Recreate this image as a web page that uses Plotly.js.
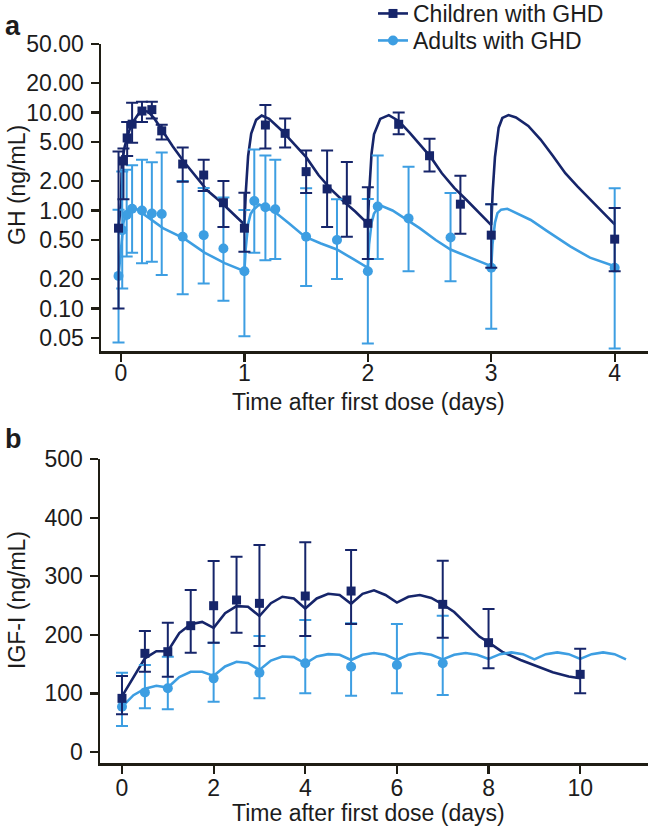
<!DOCTYPE html>
<html>
<head>
<meta charset="utf-8">
<script src="https://cdn.plot.ly/plotly-3.0.1.min.js"></script>
<style>
html,body{margin:0;padding:0;background:#fff;overflow:hidden;}
#chart{width:653px;height:840px;margin-top:-8px;}
</style>
</head>
<body>
<div id="chart"></div>
<script>
// ---------- Panel a: GH (ng/mL), log scale ----------
const childGH_t     = [-0.02, 0.02, 0.05, 0.09, 0.17, 0.25, 0.33, 0.5, 0.67, 0.83, 1.0, 1.17, 1.33, 1.5, 1.67, 1.83, 2.0, 2.25, 2.5, 2.75, 3.0, 4.0];
const childGH_mean  = [0.66, 3.2, 5.5, 7.6, 10.35, 10.7, 6.5, 2.98, 2.30, 1.20, 0.66, 7.45, 6.13, 2.49, 1.66, 1.28, 0.74, 7.58, 3.62, 1.16, 0.56, 0.51];
const childGH_upper = [4.0, 4.3, 8.0, 12.6, 12.9, 12.9, 7.5, 4.4, 3.3, 2.0, 1.52, 11.9, 8.7, 4.1, 4.1, 3.13, 1.73, 10.0, 5.4, 2.26, 1.16, 1.06];
const childGH_lower = [0.10, 1.3, 3.6, 4.9, 8.0, 8.7, 5.3, 1.96, 1.58, 0.68, 0.38, 4.3, 4.4, 1.51, 0.68, 0.54, 0.32, 6.0, 2.5, 0.58, 0.26, 0.24];

const adultGH_t     = [-0.02, 0.01, 0.046, 0.09, 0.17, 0.25, 0.33, 0.5, 0.67, 0.83, 1.0, 1.08, 1.17, 1.25, 1.5, 1.75, 2.0, 2.08, 2.33, 2.67, 3.0, 4.0];
const adultGH_mean  = [0.215, 0.63, 0.90, 1.04, 1.0, 0.93, 0.92, 0.54, 0.56, 0.41, 0.24, 1.25, 1.08, 1.03, 0.54, 0.50, 0.24, 1.10, 0.83, 0.53, 0.26, 0.26];
const adultGH_upper = [1.02, 2.5, 2.6, 2.9, 3.3, 3.1, 3.9, 2.0, 1.7, 1.36, 1.01, 4.2, 3.65, 3.3, 1.69, 1.30, 1.31, 3.65, 2.8, 1.51, 1.16, 1.69];
const adultGH_lower = [0.045, 0.16, 0.34, 0.37, 0.29, 0.30, 0.22, 0.14, 0.18, 0.12, 0.052, 0.37, 0.31, 0.32, 0.17, 0.20, 0.044, 0.32, 0.24, 0.19, 0.062, 0.039];

// model curves
const childGHcurve_t = [-0.02, 0.0, 0.006, 0.03, 0.05, 0.085, 0.14, 0.18, 0.22, 0.27, 0.34, 0.42, 0.51, 0.6, 0.7, 0.8, 0.9, 0.995,
                        1.0, 1.012, 1.03, 1.055, 1.095, 1.14, 1.2, 1.3, 1.4, 1.5, 1.6, 1.7, 1.8, 1.9, 1.995,
                        2.0, 2.012, 2.03, 2.05, 2.1, 2.17, 2.25, 2.34, 2.42, 2.51, 2.6, 2.7, 2.8, 2.9, 2.995,
                        3.0, 3.012, 3.03, 3.06, 3.09, 3.14, 3.2, 3.3, 3.4, 3.5, 3.6, 3.7, 3.8, 3.9, 4.0];
const childGHcurve_v = [0.66, 1.2, 3.0, 4.5, 5.6, 7.6, 9.6, 10.4, 10.2, 8.7, 6.4, 4.5, 3.14, 2.3, 1.6, 1.25, 0.95, 0.72,
                        0.72, 1.6, 3.6, 6.1, 8.4, 9.3, 8.6, 6.6, 4.8, 3.5, 2.3, 1.65, 1.25, 0.97, 0.74,
                        0.74, 1.6, 3.8, 6.0, 8.6, 9.4, 8.2, 6.2, 4.7, 3.5, 2.4, 1.7, 1.28, 0.95, 0.71,
                        0.71, 1.6, 3.5, 7.0, 8.8, 9.4, 8.9, 7.3, 5.3, 3.6, 2.4, 1.75, 1.3, 0.98, 0.72];

const adultGHcurve_t = [-0.02, 0.0, 0.02, 0.045, 0.07, 0.1, 0.2, 0.34, 0.51, 0.6, 0.68, 0.84, 1.0,
                        1.01, 1.03, 1.05, 1.07, 1.12, 1.24, 1.36, 1.49, 1.62, 1.75, 1.88, 2.0,
                        2.01, 2.03, 2.05, 2.1, 2.2, 2.34, 2.42, 2.55, 2.67, 2.83, 3.0,
                        3.01, 3.03, 3.05, 3.08, 3.13, 3.2, 3.32, 3.45, 3.64, 3.8, 4.0];
const adultGHcurve_v = [0.215, 0.4, 0.75, 0.95, 1.05, 1.09, 0.88, 0.66, 0.52, 0.43, 0.37, 0.29, 0.24,
                        0.4, 0.73, 0.92, 1.01, 1.15, 0.98, 0.74, 0.54, 0.46, 0.40, 0.32, 0.26,
                        0.45, 0.75, 0.93, 1.13, 1.0, 0.77, 0.66, 0.50, 0.40, 0.33, 0.27,
                        0.45, 0.75, 0.94, 1.02, 1.04, 0.95, 0.80, 0.62, 0.43, 0.33, 0.27];

const ghTickVals = [0.05, 0.1, 0.2, 0.5, 1, 2, 5, 10, 20, 50];
const ghTickText = ["0.05", "0.10", "0.20", "0.50", "1.00", "2.00", "5.00", "10.00", "20.00", "50.00"];
const dayTicksA = [0, 1, 2, 3, 4];

// ---------- Panel b: IGF-I (ng/mL) ----------
const childIGF_t     = [0, 0.5, 1, 1.5, 2, 2.5, 3, 4, 5, 7, 8, 10];
const childIGF_mean  = [91.6, 168.4, 171.2, 215.6, 249.7, 259.4, 253.7, 266.2, 274.7, 252, 186.6, 132.6];
const childIGF_upper = [129.7, 206.5, 220.7, 276.5, 326, 333.3, 353.2, 357.8, 344.7, 326.5, 244, 176.3];
const childIGF_lower = [64.3, 137, 128.5, 169.5, 186.6, 203.6, 180.9, 198, 218.4, 195, 142.8, 100.1];

const adultIGF_t     = [0, 0.5, 1, 2, 3, 4, 5, 6, 7];
const adultIGF_mean  = [77.3, 101.8, 108.7, 125.7, 135.3, 151.4, 145.6, 148.5, 151.4];
const adultIGF_upper = [135.3, 148.5, 162.7, 186.6, 198, 225.3, 219.6, 218.4, 232.6];
const adultIGF_lower = [44.4, 74.6, 72.9, 85.8, 91.6, 100.1, 96.1, 100.1, 97.3];

const childIGFcurve_t = [0, 0.25, 0.5, 0.75, 1.0, 1.25, 1.5, 1.75, 2.0, 2.25, 2.5, 2.75, 3.0, 3.25, 3.5, 3.75, 4.0,
                         4.25, 4.5, 4.75, 5.0, 5.25, 5.5, 5.75, 6.0, 6.25, 6.5, 6.75, 7.0,
                         7.25, 7.5, 7.8, 8.0, 8.3, 8.7, 9.05, 9.4, 9.75, 10.0];
const childIGFcurve_v = [95, 128, 160, 172, 172, 203, 218, 222, 212, 237, 249, 248, 232, 254, 265, 262, 245,
                         262, 270, 268, 253, 270, 276, 268, 255, 265, 268, 263, 252,
                         239, 220, 197, 187, 171, 157, 146, 136, 129, 126];

const adultIGFcurve_t = [0, 0.25, 0.5, 0.75, 1.0, 1.25, 1.5, 1.75, 2.0, 2.25, 2.5, 2.75, 3.0, 3.25, 3.5, 3.75, 4.0,
                         4.25, 4.5, 4.75, 5.0, 5.25, 5.5, 5.75, 6.0, 6.25, 6.5, 6.75, 7.0, 7.25, 7.5, 7.75, 8.0,
                         8.25, 8.5, 8.75, 9.0, 9.25, 9.5, 9.75, 10.0, 10.25, 10.5, 10.75, 11.0];
const adultIGFcurve_v = [77, 97, 108, 113, 110, 128, 137, 137, 130, 146, 154, 152, 140, 156, 163, 162, 151,
                         163, 167, 166, 157, 166, 169, 166, 157, 166, 169, 166, 158, 166, 169, 166, 159,
                         167, 170, 167, 158, 167, 170, 167, 159, 167, 170, 167, 158];

const igfTickVals = [0, 100, 200, 300, 400, 500];
const dayTicksB = [0, 2, 4, 6, 8, 10];

const seriesNames = ["Children with GHD", "Adults with GHD"];

// ---------- styling ----------
const DARK = "#16256a";
const LIGHT = "#3d9ee2";
const AXIS = "#1f1d14";
const TXT = "#1c1c1c";
const FONT = "Liberation Sans, Arial, Helvetica, sans-serif";
const FS = 23;

function errY(mean, up, lo, color) {
  return {type: "data", symmetric: false,
          array: up.map((u, i) => u - mean[i]),
          arrayminus: lo.map((l, i) => mean[i] - l),
          color: color, thickness: 2, width: 6};
}

const traces = [
  {x: childGHcurve_t, y: childGHcurve_v, mode: "lines", line: {color: DARK, width: 2.6}, showlegend: false, hoverinfo: "skip", xaxis: "x", yaxis: "y"},
  {x: adultGHcurve_t, y: adultGHcurve_v, mode: "lines", line: {color: LIGHT, width: 2.6}, showlegend: false, hoverinfo: "skip", xaxis: "x", yaxis: "y"},
  {x: adultGH_t, y: adultGH_mean, mode: "markers", marker: {symbol: "circle", size: 10, color: LIGHT},
   error_y: errY(adultGH_mean, adultGH_upper, adultGH_lower, LIGHT), showlegend: false, xaxis: "x", yaxis: "y"},
  {x: childGH_t, y: childGH_mean, mode: "markers", marker: {symbol: "square", size: 9, color: DARK},
   error_y: errY(childGH_mean, childGH_upper, childGH_lower, DARK), showlegend: false, xaxis: "x", yaxis: "y"},
  {x: childIGFcurve_t, y: childIGFcurve_v, mode: "lines", line: {color: DARK, width: 2.6}, showlegend: false, hoverinfo: "skip", xaxis: "x2", yaxis: "y2"},
  {x: adultIGFcurve_t, y: adultIGFcurve_v, mode: "lines", line: {color: LIGHT, width: 2.6}, showlegend: false, hoverinfo: "skip", xaxis: "x2", yaxis: "y2"},
  {x: adultIGF_t, y: adultIGF_mean, mode: "markers", marker: {symbol: "circle", size: 10, color: LIGHT},
   error_y: errY(adultIGF_mean, adultIGF_upper, adultIGF_lower, LIGHT), showlegend: false, xaxis: "x2", yaxis: "y2"},
  {x: childIGF_t, y: childIGF_mean, mode: "markers", marker: {symbol: "square", size: 9, color: DARK},
   error_y: errY(childIGF_mean, childIGF_upper, childIGF_lower, DARK), showlegend: false, xaxis: "x2", yaxis: "y2"},
  // legend entries (each in its own legend box to control spacing)
  {x: [null], y: [null], name: seriesNames[0], mode: "lines+markers", line: {color: DARK, width: 2.6},
   marker: {symbol: "square", size: 9, color: DARK}, xaxis: "x", yaxis: "y", legend: "legend"},
  {x: [null], y: [null], name: seriesNames[1], mode: "lines+markers", line: {color: LIGHT, width: 2.6},
   marker: {symbol: "circle", size: 10, color: LIGHT}, xaxis: "x", yaxis: "y", legend: "legend2"}
];

// the figure is 8px taller than the window and shifted up by 8px (CSS) so the
// legend can sit as close to the top edge as in the reference
const OFF = 8;
const W = 653, H = 832 + OFF;
const px = v => v / W;
const py = v => 1 - (v + OFF) / H;   // v = pixel row in the visible window

const axisCommon = {
  showline: true, linecolor: AXIS, linewidth: 2.5, mirror: false,
  ticks: "outside", ticklen: 8, tickwidth: 2.2, tickcolor: AXIS,
  showgrid: false, zeroline: false,
  tickfont: {family: FONT, size: FS, color: TXT}
};

const legendCommon = {xanchor: "left", yanchor: "top", bgcolor: "rgba(0,0,0,0)",
                      font: {family: FONT, size: FS, color: TXT}, itemwidth: 30};

function ann(text, x, y, extra) {
  return Object.assign({text: text, x: px(x), y: py(y), xref: "paper", yref: "paper", showarrow: false,
                        xanchor: "center", yanchor: "middle", font: {family: FONT, size: FS, color: TXT}}, extra || {});
}

const layout = {
  width: W, height: H,
  margin: {l: 0, r: 0, t: 0, b: 0},
  paper_bgcolor: "#ffffff", plot_bgcolor: "#ffffff",
  font: {family: FONT, color: TXT},
  showlegend: true,
  legend: Object.assign({x: px(373), y: 1}, legendCommon),
  legend2: Object.assign({x: px(373), y: py(19)}, legendCommon),
  xaxis: Object.assign({}, axisCommon, {domain: [px(101), px(648)], range: [-0.162, 4.27],
          tickvals: dayTicksA, anchor: "y", ticklabelstandoff: -8}),
  yaxis: Object.assign({}, axisCommon, {domain: [py(351), py(44)], type: "log", range: [-1.434, 1.699],
          tickvals: ghTickVals, ticktext: ghTickText, anchor: "x", ticklabelstandoff: 2}),
  xaxis2: Object.assign({}, axisCommon, {domain: [px(100), px(648)], range: [-0.48, 11.48],
          tickvals: dayTicksB, anchor: "y2", ticklabelstandoff: -5}),
  yaxis2: Object.assign({}, axisCommon, {domain: [py(763), py(459)], range: [-18.7, 500],
          tickvals: igfTickVals, anchor: "x2", ticklabelstandoff: 2}),
  annotations: [
    ann("<b>a</b>", 13, 26, {font: {family: FONT, size: 27, color: TXT}}),
    ann("<b>b</b>", 13, 439, {font: {family: FONT, size: 27, color: TXT}}),
    ann("GH (ng/mL)", 17, 185, {textangle: -90}),
    ann("Time after first dose (days)", 368, 402),
    ann("IGF-I (ng/mL)", 17, 600, {textangle: -90}),
    ann("Time after first dose (days)", 368, 813)
  ]
};

Plotly.newPlot("chart", traces, layout, {displayModeBar: false, staticPlot: true});
</script>
</body>
</html>
